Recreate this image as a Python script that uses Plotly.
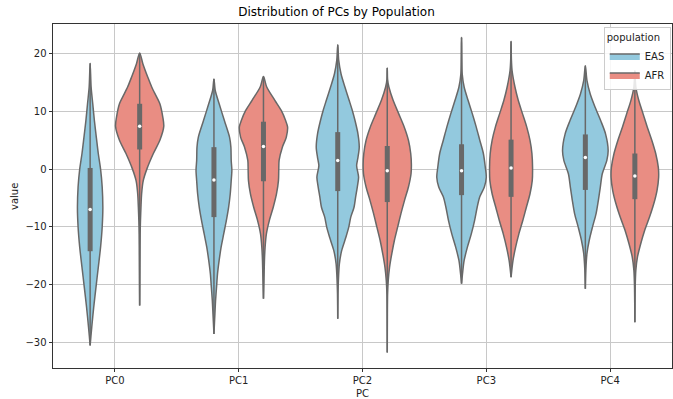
import plotly.graph_objects as go

categories = ["PC0", "PC1", "PC2", "PC3", "PC4"]
populations = ["EAS", "AFR"]

# violin outline profiles: value levels and relative half-widths
eas_levels = [
    [18.3, 14.2, 11.3, 8.4, 5.5, 2.7, 0, -3.1, -6.6, -10, -13.5, -17, -20.4, -23.9, -27.3, -30.5],
    [15.6, 13.6, 11.3, 8.4, 5.5, 3.8, 1.5, -0.2, -2.0, -4.3, -6.6, -8.9, -11.2, -13.5, -15.8, -18.1, -20.4, -22.7, -25.0, -28.5],
    [21.5, 18.8, 16.5, 14.2, 11.9, 10.1, 8.4, 6.1, 3.8, 2.0, 0.6, -1.4, -3.1, -4.8, -6.6, -8.3, -10, -11.8, -14.1, -16.4, -19.3, -21.6, -25.9],
    [22.8, 19.0, 16.5, 14.2, 11.9, 9.6, 7.3, 5.0, 2.7, 0.3, -1.4, -3.1, -4.8, -6.6, -8.9, -11.2, -13.5, -15.8, -18.1, -19.8],
    [17.9, 15.3, 13.0, 10.7, 8.4, 6.1, 3.2, 1.5, -0.8, -3.1, -5.4, -7.7, -10, -12.3, -14.6, -17.5, -20.7],
]
eas_density = [
    [0, 3, 8, 13, 19, 25, 32, 37, 39, 37, 32, 25, 18, 11, 5, 0],
    [0, 4, 16, 32, 48, 52, 53, 55, 53, 50, 45, 38, 30, 22, 16, 11, 8, 5, 3, 0],
    [0, 3, 10, 22, 35, 45, 53, 62, 66, 62, 58, 64, 60, 55, 50, 40, 34, 25, 12, 5, 2, 0.7, 0],
    [0, 0.8, 2, 8, 20, 33, 45, 56, 67, 73, 76, 70, 56, 48, 40, 30, 18, 8, 3, 0],
    [0, 5, 15, 30, 47, 62, 70, 66, 52, 46, 40, 33, 22, 12, 5, 1.5, 0],
]
afr_levels = [
    [20.1, 18.2, 15.9, 14.2, 12.5, 11.3, 9.0, 7.4, 5.0, 2.7, 0, -2.0, -4.3, -6.6, -8.9, -11.2, -15, -20, -23.6],
    [16.0, 14.2, 11.9, 10.1, 8.4, 7.3, 5.5, 3.8, 1.5, -0.2, -2.0, -4.3, -6.6, -8.9, -11.2, -13.5, -15.8, -19.3, -22.4],
    [17.5, 15.5, 14.2, 11.9, 9.6, 7.3, 5.0, 2.7, 0.9, -0.8, -3.1, -5.4, -7.7, -10, -12.3, -14.6, -17, -19.3, -21.6, -25, -31.7],
    [22.1, 19.0, 17.1, 14.2, 11.9, 9.6, 7.3, 5.0, 2.7, 0.3, -2.0, -4.3, -6.6, -8.9, -11.2, -13.5, -15.8, -18.7],
    [17.0, 14.2, 11.9, 9.6, 7.3, 5.0, 2.7, 0.3, -1.4, -3.7, -6.0, -8.3, -10.6, -12.9, -15.2, -17.5, -20.4, -26.5],
]
afr_density = [
    [0, 10, 25, 37, 52, 62, 71, 74, 62, 42, 22, 11, 6, 4, 2.5, 1.5, 1, 0.5, 0],
    [0, 10, 35, 55, 68, 74, 70, 58, 48, 47, 46, 40, 30, 18, 9, 5, 3, 1.5, 0],
    [0, 1, 5, 18, 35, 52, 65, 72, 74, 73, 65, 53, 42, 32, 22, 14, 7, 3, 1, 0.4, 0],
    [0, 1, 3, 12, 22, 35, 48, 58, 64, 66, 65, 58, 47, 36, 24, 14, 6, 0],
    [0, 3, 12, 25, 38, 52, 64, 72, 73, 68, 58, 45, 30, 18, 8, 3, 1, 0],
]

# box statistics
eas_q1 = [-14.2, -8.3, -3.8, -4.5, -3.6]
eas_median = [-7.0, -1.9, 1.5, -0.3, 2.0]
eas_q3 = [0.2, 3.8, 6.4, 4.3, 6.0]
eas_whisker_lo = [-30.5, -28.5, -25.9, -19.8, -20.7]
eas_whisker_hi = [18.3, 15.6, 21.5, 22.8, 17.9]

afr_q1 = [3.4, -2.1, -5.7, -4.8, -5.2]
afr_median = [7.4, 3.9, -0.3, 0.2, -1.2]
afr_q3 = [11.3, 8.2, 4.0, 5.1, 2.7]
afr_whisker_lo = [-23.6, -22.4, -31.7, -18.7, -26.5]
afr_whisker_hi = [20.1, 16.0, 17.5, 22.1, 17.0]

colors = {"EAS": "#93C9DE", "AFR": "#E98D83"}
edge = "#686868"

groups = {
    "EAS": dict(levels=eas_levels, dens=eas_density, q1=eas_q1, med=eas_median, q3=eas_q3,
                lo=eas_whisker_lo, hi=eas_whisker_hi, off=-0.2),
    "AFR": dict(levels=afr_levels, dens=afr_density, q1=afr_q1, med=afr_median, q3=afr_q3,
                lo=afr_whisker_lo, hi=afr_whisker_hi, off=0.2),
}

dmax = max(max(max(d) for d in eas_density), max(max(d) for d in afr_density))
half = 0.2

fig = go.Figure()
for pop in populations:
    g = groups[pop]
    for i, cat in enumerate(categories):
        c = i + g["off"]
        ys = g["levels"][i]
        ws = [w / dmax * half for w in g["dens"][i]]
        xs = [c + w for w in ws] + [c - w for w in ws[::-1]]
        yy = ys + ys[::-1]
        fig.add_trace(go.Scatter(
            x=xs, y=yy, mode="lines", fill="toself", fillcolor=colors[pop],
            line=dict(color=edge, width=1.5, shape="spline", smoothing=0.8),
            name=pop, legendgroup=pop, showlegend=(i == 0), hoverinfo="skip"))
for pop in populations:
    g = groups[pop]
    for i, cat in enumerate(categories):
        c = i + g["off"]
        fig.add_trace(go.Scatter(x=[c, c], y=[g["lo"][i], g["hi"][i]], mode="lines",
                                 line=dict(color=edge, width=1.5), showlegend=False, hoverinfo="skip"))
        fig.add_trace(go.Scatter(x=[c, c], y=[g["q1"][i], g["q3"][i]], mode="lines",
                                 line=dict(color=edge, width=5), showlegend=False, hoverinfo="skip"))
        fig.add_trace(go.Scatter(x=[c], y=[g["med"][i]], mode="markers",
                                 marker=dict(color="white", size=3.5), showlegend=False, hoverinfo="skip"))

font = "DejaVu Sans"
fig.update_layout(
    width=673, height=399,
    margin=dict(l=53, r=1, t=24, b=31, autoexpand=False),
    paper_bgcolor="white", plot_bgcolor="white",
    font=dict(family=font, size=10, color="#222"),
    title=dict(text="Distribution of PCs by Population", x=0.5, xanchor="center",
               y=1 - 12 / 399, yanchor="middle", yref="container",
               font=dict(family=font, size=12, color="black")),
    showlegend=True,
    legend=dict(title=dict(text="population", font=dict(size=10)), x=0.998, xanchor="right",
                y=0.99, yanchor="top", bgcolor="rgba(255,255,255,0.85)", bordercolor="#cccccc",
                borderwidth=1, font=dict(size=10), itemwidth=30, tracegroupgap=0),
    xaxis=dict(range=[-0.5, 4.5], tickmode="array", tickvals=list(range(len(categories))),
               ticktext=categories, showgrid=True, gridcolor="#c8c8c8", gridwidth=1,
               showline=True, linecolor="#333", linewidth=1, mirror=True,
               ticks="outside", ticklen=3, tickcolor="#333", zeroline=False, automargin=False,
               tickfont=dict(size=10, color="#222")),
    yaxis=dict(range=[-34.4, 25.1], tickmode="array", tickvals=[20, 10, 0, -10, -20, -30],
               ticktext=["20", "10", "0", "\u221210", "\u221220", "\u221230"],
               showgrid=True, gridcolor="#c8c8c8", gridwidth=1,
               showline=True, linecolor="#333", linewidth=1, mirror=True,
               ticks="outside", ticklen=3.5, tickcolor="#333", zeroline=False, automargin=False,
               tickfont=dict(size=10, color="#222")),
    annotations=[
        dict(text="PC", xref="paper", yref="paper", x=0.5, y=-26 / 344, yanchor="middle",
             showarrow=False, font=dict(size=10, color="#222")),
        dict(text="value", xref="paper", yref="paper", x=-39 / 619, y=0.5, xanchor="center",
             textangle=-90, showarrow=False, font=dict(size=10, color="#222")),
    ],
)

fig.write_html("out.html", config={"displayModeBar": False},
               post_script="document.body.style.margin='0';")
